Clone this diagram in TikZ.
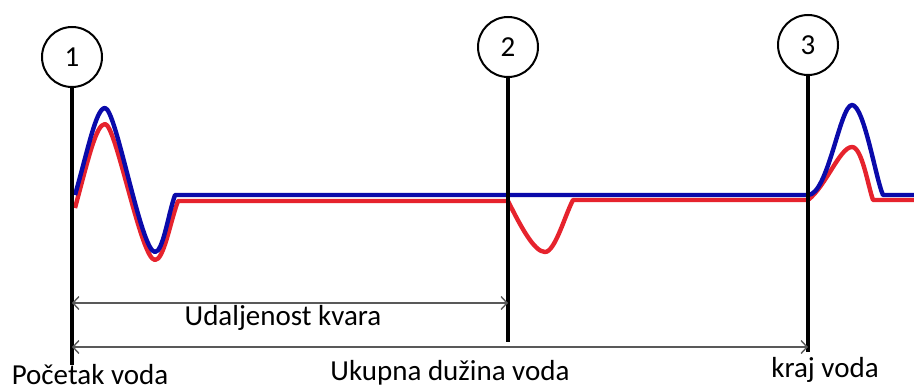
\documentclass[tikz,border=0pt]{standalone}
\usepackage{fontspec}
\setmainfont{Carlito}
\usepackage{tikz}
\usetikzlibrary{arrows.meta, positioning}

\definecolor{valplava}{RGB}{10,10,170}
\definecolor{valcrvena}{RGB}{230,35,45}

\begin{document}
\begin{tikzpicture}[x=0.5pt, y=-0.5pt, >={Straight Barb[length=3pt,width=6.5pt]},
  font=\fontsize{14.5}{16}\selectfont]
\tikzstyle{tocka}=[circle, draw=black, line width=1pt, minimum size=30pt, inner sep=0pt]
\tikzstyle{stup}=[line width=2pt, black]
\tikzstyle{mjera}=[<->, line width=0.7pt, draw=black!65]
\tikzstyle{val}=[line width=2.2pt, line join=round]

\useasboundingbox (0,0) rectangle (914,391);

\node[tocka] (c1) at (72,57) {1};
\node[tocka] (c2) at (508,47) {2};
\node[tocka] (c3) at (808,45) {3};

\coordinate (b1) at (72,365);
\coordinate (b2) at (508,342);
\coordinate (b3) at (808,352);

% reflektirani val (crveno)
\draw[val, valcrvena] (75,208) .. controls (88,160) and (96,124) .. (105,124)
  .. controls (116,124) and (141,260) .. (155,260)
  .. controls (164,260) and (170,222) .. (178,201) -- (508,201)
  .. controls (520,225) and (534,252) .. (545,252)
  .. controls (555,252) and (565,215) .. (573,200) -- (808,200)
  .. controls (826,186) and (840,147) .. (852,147)
  .. controls (862,147) and (868,186) .. (873,200) -- (914,200);
% upadni val (plavo)
\draw[val, valplava] (75,195) .. controls (88,150) and (96,108) .. (105,108)
  .. controls (116,108) and (141,252) .. (155,252)
  .. controls (163,252) and (168,215) .. (175,195) -- (808,195)
  .. controls (828,195) and (840,105) .. (852,105)
  .. controls (864,105) and (876,180) .. (883,195) -- (914,195);

\draw[stup] (c1.south) -- (b1);
\draw[stup] (c2.south) -- (b2);
\draw[stup] (c3.south) -- (b3);

\coordinate (k1) at (72,303);
\coordinate (k2) at (508,303);
\coordinate (d1) at (72,347);
\coordinate (d2) at (808,347);

\draw[mjera] (k1) -- (k2);
\draw[mjera] (d1) -- (d2);

\node (kvar) at (283,318) {Udaljenost kvara};
\node (duz) at (450,373) {Ukupna dužina voda};
\node[inner sep=0pt] (poc) at (90,375) {Početak voda};
\node (kraj) at (825,370) {kraj voda};
\end{tikzpicture}
\end{document}
